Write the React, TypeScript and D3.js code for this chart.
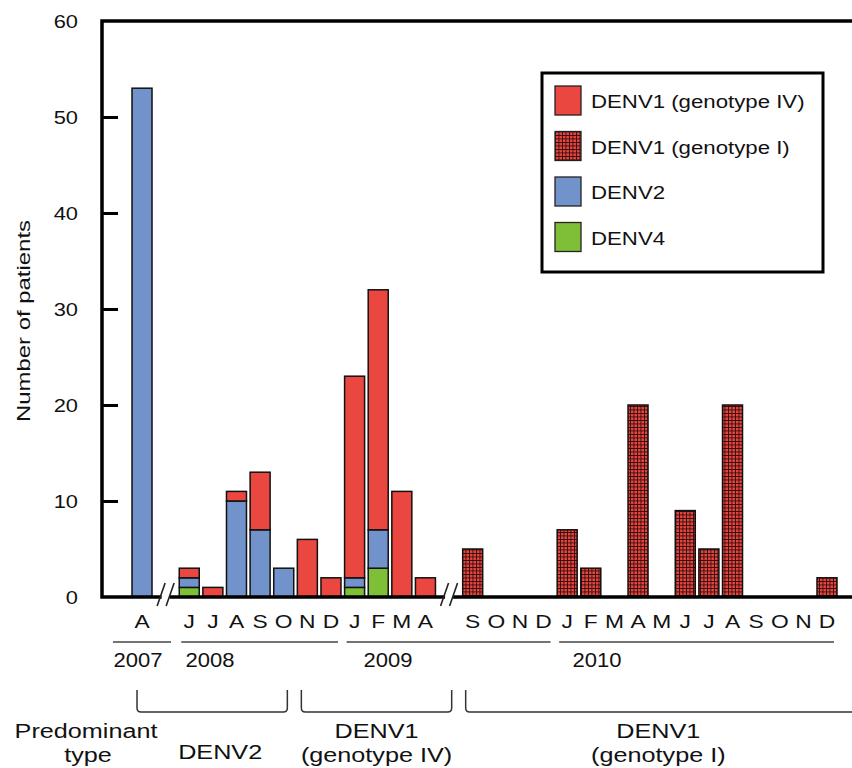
import React, { useEffect, useRef } from "react";
import * as d3 from "d3";

// one slot per month, "" marks the axis breaks
const months = ["A", "", "J", "J", "A", "S", "O", "N", "D", "J", "F", "M", "A", "", "S", "O", "N", "D", "J", "F", "M", "A", "M", "J", "J", "A", "S", "O", "N", "D"];
const denv4 = [0, 0, 1, 0, 0, 0, 0, 0, 0, 1, 3, 0, 0, 0, 0, 0, 0, 0, 0, 0, 0, 0, 0, 0, 0, 0, 0, 0, 0, 0];
const denv2 = [53, 0, 1, 0, 10, 7, 3, 0, 0, 1, 4, 0, 0, 0, 0, 0, 0, 0, 0, 0, 0, 0, 0, 0, 0, 0, 0, 0, 0, 0];
const denv1IV = [0, 0, 1, 1, 1, 6, 0, 6, 2, 21, 25, 11, 2, 0, 0, 0, 0, 0, 0, 0, 0, 0, 0, 0, 0, 0, 0, 0, 0, 0];
const denv1I = [0, 0, 0, 0, 0, 0, 0, 0, 0, 0, 0, 0, 0, 0, 5, 0, 0, 0, 7, 3, 0, 20, 0, 9, 5, 20, 0, 0, 0, 2];

const yTicks = [0, 10, 20, 30, 40, 50, 60];

// year label, first slot, last slot, label position (in slots)
const years = [
  { label: "2007", from: 0, to: 0, at: -0.17 },
  { label: "2008", from: 2, to: 8, at: 2.88 },
  { label: "2009", from: 9, to: 17, at: 10.41 },
  { label: "2010", from: 18, to: 29, at: 19.26 },
];

const predominant = [
  { lines: ["DENV2"], from: 0, to: 6 },
  { lines: ["DENV1", "(genotype IV)"], from: 7, to: 13 },
  { lines: ["DENV1", "(genotype I)"], from: 14, to: 29 },
];

const seriesKeys = ["denv4", "denv2", "denv1IV", "denv1I"];
const legendKeys = ["denv1IV", "denv1I", "denv2", "denv4"];
const legendLabels = ["DENV1 (genotype IV)", "DENV1 (genotype I)", "DENV2", "DENV4"];

const colours = {
  denv1IV: "#EA4740",
  denv1I: "url(#grid)",
  denv2: "#7292CB",
  denv4: "#7FBF37",
};

const FONT = "'Liberation Sans', Arial, Helvetica, sans-serif";

export default function App() {
  const ref = useRef(null);

  useEffect(() => {
    const svg = d3.select(ref.current);
    svg.selectAll("*").remove();

    const dims = { width: 852, height: 768, left: 102, top: 21, right: 852, bottom: 597 };

    const defs = svg.append("defs");
    const pat = defs
      .append("pattern")
      .attr("id", "grid")
      .attr("patternUnits", "userSpaceOnUse")
      .attr("width", 3.5)
      .attr("height", 3.5);
    pat.append("rect").attr("width", 3.5).attr("height", 3.5).attr("fill", "#E8443E");
    pat
      .append("path")
      .attr("d", "M0,0.4H3.5M0.4,0V3.5")
      .attr("stroke", "#2b0c0c")
      .attr("stroke-width", 0.9);

    const table = months.map((m, i) => ({
      slot: String(i),
      denv4: denv4[i],
      denv2: denv2[i],
      denv1IV: denv1IV[i],
      denv1I: denv1I[i],
    }));

    const yScale = d3.scaleLinear().domain([0, 60]).range([dims.bottom, dims.top]);
    const xScale = d3
      .scaleBand()
      .domain(table.map((d) => d.slot))
      .range([130.2, 838.8])
      .paddingInner(0.153)
      .paddingOuter(0.0765);
    const bw = xScale.bandwidth();
    const step = xScale.step();
    const cx = (i) => xScale(String(i)) + bw / 2;

    // Bars
    const stacked = d3.stack().keys(seriesKeys)(table);
    const bars = svg.append("g");
    stacked.forEach((layer) => {
      bars
        .append("g")
        .selectAll("rect")
        .data(layer.filter((d) => d[1] - d[0] > 0))
        .join("rect")
        .attr("x", (d) => xScale(d.data.slot))
        .attr("y", (d) => yScale(d[1]))
        .attr("width", bw)
        .attr("height", (d) => yScale(d[0]) - yScale(d[1]))
        .attr("fill", colours[layer.key])
        .attr("stroke", "#111")
        .attr("stroke-width", 1.5);
    });

    // Y axis
    const yAxis = svg
      .append("g")
      .attr("transform", `translate(${dims.left},0)`)
      .call(
        d3
          .axisLeft(yScale)
          .tickValues(yTicks)
          .tickSize(-16)
          .tickSizeOuter(0)
          .tickPadding(24)
      );
    yAxis.select(".domain").remove();
    yAxis.selectAll(".tick line").attr("stroke", "#000").attr("stroke-width", 3);
    yAxis.selectAll(".tick").filter((d) => d === 0 || d === 60).select("line").remove();
    yAxis
      .selectAll(".tick text")
      .attr("font-family", FONT)
      .attr("font-size", 19)
      .attr("fill", "#111")
      .attr("dy", "0.34em")
      .attr("transform", "scale(1.15,1)")
      .attr("x", -24 / 1.15);

    // Frame: left, top, bottom
    svg
      .append("path")
      .attr("d", `M${dims.right},${dims.top}H${dims.left}V${dims.bottom}H${dims.right}`)
      .attr("fill", "none")
      .attr("stroke", "#000")
      .attr("stroke-width", 3.5);

    // Axis breaks in the empty slots
    months.forEach((m, i) => {
      if (m !== "") return;
      const c = cx(i);
      svg
        .append("rect")
        .attr("x", c - 4)
        .attr("y", dims.bottom - 4)
        .attr("width", 8)
        .attr("height", 8)
        .attr("fill", "#fff");
      [-4.5, 4.5].forEach((o) => {
        svg
          .append("line")
          .attr("x1", c + o - 4)
          .attr("y1", dims.bottom + 9)
          .attr("x2", c + o + 4)
          .attr("y2", dims.bottom - 14)
          .attr("stroke", "#222")
          .attr("stroke-width", 1.6);
      });
    });

    // Y label
    svg
      .append("text")
      .attr("transform", `translate(30,321) rotate(-90)`)
      .attr("text-anchor", "middle")
      .attr("font-family", FONT)
      .attr("font-size", 18)
      .attr("fill", "#111")
      .attr("textLength", 202)
      .attr("lengthAdjust", "spacingAndGlyphs")
      .text("Number of patients");

    // Month letters
    svg
      .append("g")
      .selectAll("text")
      .data(months.map((m, i) => ({ m, i })).filter((d) => d.m !== ""))
      .join("text")
      .attr("transform", (d) => `translate(${cx(d.i)},628) scale(1.2,1)`)
      .attr("text-anchor", "middle")
      .attr("font-family", FONT)
      .attr("font-size", 19)
      .attr("fill", "#111")
      .text((d) => d.m);

    // Year lines and labels
    years.forEach((yr) => {
      let x0 = xScale(String(yr.from)) + 2;
      let x1 = xScale(String(yr.to)) + bw - 3;
      if (yr.from === yr.to) {
        x0 = cx(yr.from) - 29;
        x1 = cx(yr.from) + 29;
      }
      svg
        .append("line")
        .attr("x1", x0)
        .attr("x2", x1)
        .attr("y1", 642)
        .attr("y2", 642)
        .attr("stroke", "#444")
        .attr("stroke-width", 1.3);
      svg
        .append("text")
        .attr("transform", `translate(${cx(0) + yr.at * step},667) scale(1.13,1)`)
        .attr("text-anchor", "middle")
        .attr("font-family", FONT)
        .attr("font-size", 19.5)
        .attr("fill", "#111")
        .text(yr.label);
    });

    // Predominant type brackets
    const bounds = [cx(0) - 5, xScale("7") - 3, xScale("14") - 4, 866];
    predominant.forEach((p, i) => {
      const x0 = i === 0 ? bounds[0] : bounds[i] + 7;
      const x1 = i === predominant.length - 1 ? bounds[i + 1] : bounds[i + 1] - 7;
      svg
        .append("path")
        .attr("d", `M${x0},690V708Q${x0},712 ${x0 + 4},712H${x1 - 4}Q${x1},712 ${x1},708V690`)
        .attr("fill", "none")
        .attr("stroke", "#333")
        .attr("stroke-width", 1.5);
      const mid = i === 0 ? (x0 + x1) / 2 + 8 : i === predominant.length - 1 ? (x0 + 852) / 2 - 0.5 : (x0 + x1) / 2;
      const t = svg
        .append("g")
        .attr("font-family", FONT)
        .attr("font-size", 21)
        .attr("fill", "#111")
        .attr("text-anchor", "middle");
      if (p.lines.length === 1) {
        t.append("text").attr("transform", `translate(${mid},759) scale(1.2,1)`).text(p.lines[0]);
      } else {
        t.append("text").attr("transform", `translate(${mid},738) scale(1.2,1)`).text(p.lines[0]);
        t.append("text").attr("transform", `translate(${mid},762) scale(1.2,1)`).text(p.lines[1]);
      }
    });

    const pt = svg
      .append("g")
      .attr("font-family", FONT)
      .attr("font-size", 21)
      .attr("fill", "#111")
      .attr("text-anchor", "middle");
    pt.append("text").attr("transform", "translate(86,738) scale(1.2,1)").text("Predominant");
    pt.append("text").attr("transform", "translate(88,762) scale(1.2,1)").text("type");

    // Legend
    const legend = svg.append("g").attr("transform", "translate(542,73)");
    legend
      .append("rect")
      .attr("width", 281)
      .attr("height", 199)
      .attr("fill", "#fff")
      .attr("stroke", "#000")
      .attr("stroke-width", 3);
    legendKeys.forEach((k, i) => {
      const row = legend.append("g").attr("transform", `translate(13,${13 + i * 45.5})`);
      row
        .append("rect")
        .attr("width", 26)
        .attr("height", 29)
        .attr("fill", colours[k])
        .attr("stroke", "#222")
        .attr("stroke-width", 1.3);
      row
        .append("text")
        .attr("transform", "translate(36,22) scale(1.17,1)")
        .attr("font-family", FONT)
        .attr("font-size", 19)
        .attr("fill", "#111")
        .text(legendLabels[i]);
    });
  }, []);

  return (
    <svg
      ref={ref}
      width={852}
      height={768}
      style={{ position: "absolute", left: 0, top: 0, background: "#fff" }}
    />
  );
}
